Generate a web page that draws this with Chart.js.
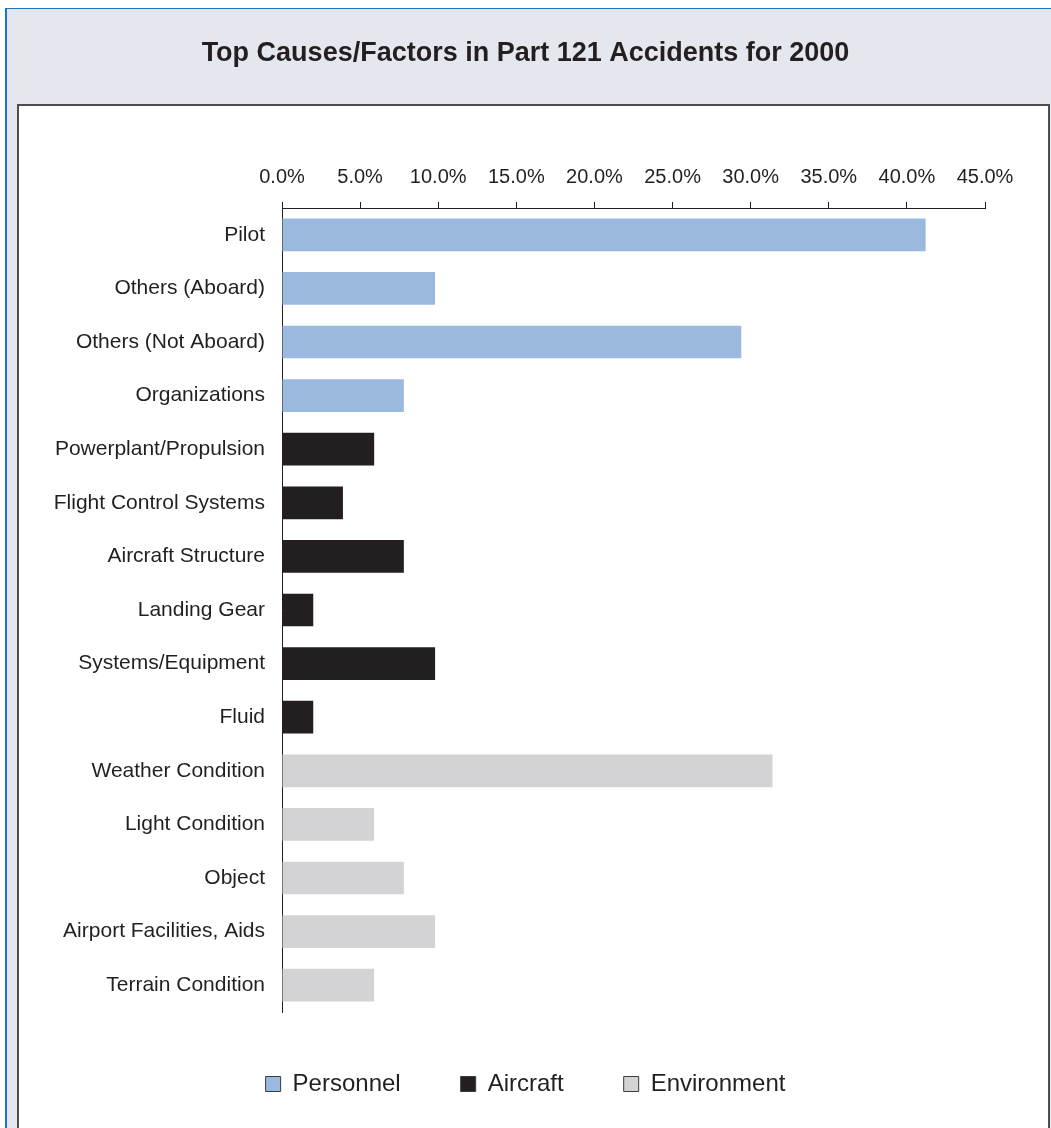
<!DOCTYPE html>
<html>
<head>
<meta charset="utf-8">
<title>Top Causes/Factors in Part 121 Accidents for 2000</title>
<script src="https://cdn.jsdelivr.net/npm/chart.js@4.4.0/dist/chart.umd.min.js"></script>
<style>
body{margin:0;background:#fff;}
/* grey box with the blue edge round it */
#frame{position:absolute;left:5px;top:8px;width:1046px;height:1120px;background:#e4e8ee;border-top:1px solid #1b75c4;border-left:2px solid #1b75c4;box-sizing:border-box;}
/* white plot panel */
#panel{position:absolute;left:17px;top:104px;width:1033px;height:1040px;background:#fff;border-top:2px solid #4d4d4f;border-left:2px solid #4d4d4f;border-right:2px solid #4d4d4f;box-sizing:border-box;}
#chart1{position:absolute;left:0;top:0;}
</style>
</head>
<body>
<div id="frame"></div>
<div id="panel"></div>
<canvas id="chart1" width="1051" height="1128"></canvas>
<script>
//////////////////////////////////////
// data (percent of accidents)
var categories = ['Pilot', 'Others (Aboard)', 'Others (Not Aboard)', 'Organizations',
	'Powerplant/Propulsion', 'Flight Control Systems', 'Aircraft Structure', 'Landing Gear',
	'Systems/Equipment', 'Fluid', 'Weather Condition', 'Light Condition', 'Object',
	'Airport Facilities, Aids', 'Terrain Condition'];

var personnel   = [41.2, 9.8, 29.4, 7.8, null, null, null, null, null, null, null, null, null, null, null];
var aircraft    = [null, null, null, null, 5.9, 3.9, 7.8, 2.0, 9.8, 2.0, null, null, null, null, null];
var environment = [null, null, null, null, null, null, null, null, null, null, 31.4, 5.9, 7.8, 9.8, 5.9];

var seriesNames  = ['Personnel', 'Aircraft', 'Environment'];
var seriesColors = ['#9bb9df', '#231f20', '#d3d3d5'];

// x axis runs 0% .. 45% in 5% steps
var xMin = 0, xMax = 45, xStep = 5;
//////////////////////////////////////

var ink = '#231f20';
Chart.defaults.font.family = "'Liberation Sans', Arial, sans-serif";
Chart.defaults.color = ink;

function makeSet(i, values){
	return {
		label: seriesNames[i],
		data: values,
		backgroundColor: seriesColors[i],
		borderWidth: 0,
		categoryPercentage: 1.0,
		barPercentage: 0.61
	};
}

var ctx = document.getElementById('chart1').getContext('2d');
var chart = new Chart(ctx, {
	type: 'bar',
	data: {
		labels: categories,
		datasets: [makeSet(0, personnel), makeSet(1, aircraft), makeSet(2, environment)]
	},
	options: {
		responsive: false,
		animation: false,
		indexAxis: 'y',
		layout: { padding: { left: 0, right: 0, top: 0, bottom: 22 } },
		plugins: {
			title: {
				display: true,
				text: 'Top Causes/Factors in Part 121 Accidents for 2000',
				color: ink,
				font: { size: 27, weight: 'bold' },
				padding: { top: 37, bottom: 10 }
			},
			legend: {
				position: 'bottom',
				labels: {
					color: ink,
					font: { size: 24 },
					boxWidth: 15,
					boxHeight: 15,
					padding: 60,
					// boxes in the legend get a dark edge, bars do not
					generateLabels: function(c){
						var items = Chart.defaults.plugins.legend.labels.generateLabels(c);
						items.forEach(function(it){ it.lineWidth = 1; it.strokeStyle = '#3c3c3e'; });
						return items;
					}
				}
			},
			tooltip: { enabled: false }
		},
		scales: {
			x: {
				position: 'top',
				stacked: true,
				min: xMin,
				max: xMax,
				grid: { drawOnChartArea: false, drawTicks: true, tickLength: 6, color: ink },
				border: { display: true, color: ink, width: 1 },
				ticks: {
					stepSize: xStep,
					padding: 13,
					font: { size: 20 },
					color: ink,
					maxRotation: 0,
					callback: function(v){ return Number(v).toFixed(1) + '%'; }
				},
				afterFit: function(s){ s.height = 208 - 79.4; }
			},
			y: {
				stacked: true,
				grid: { display: false, drawTicks: false },
				border: { display: true, color: ink, width: 1 },
				ticks: { padding: 17, font: { size: 21 }, color: ink },
				afterFit: function(s){ s.width = 282; }
			},
			// empty strip on the right so the plot stops at 45%
			gapRight: {
				type: 'linear',
				position: 'right',
				display: true,
				grid: { display: false, drawTicks: false },
				border: { display: false },
				ticks: { display: false },
				afterFit: function(s){ s.width = 66; }
			}
		}
	}
});
</script>
</body>
</html>
